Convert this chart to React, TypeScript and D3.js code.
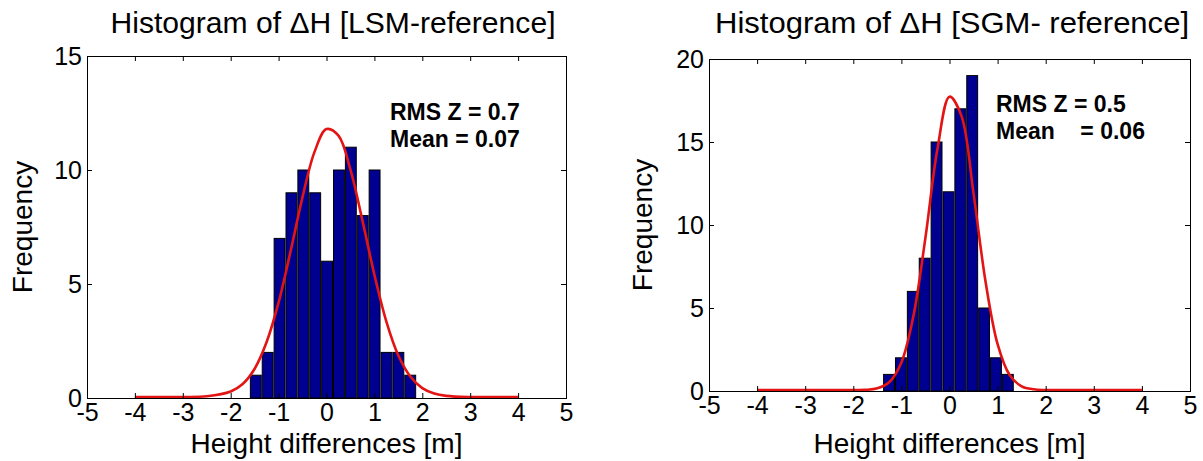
import React, { useEffect, useRef } from "react";
import * as d3 from "d3";

const W = 1203;
const H = 461;
const FONT = "Liberation Sans, Arial, sans-serif";

// shared x ticks
const xTicks = [-5, -4, -3, -2, -1, 0, 1, 2, 3, 4, 5];

// LSM - reference
const lsmCenters = [-1.476, -1.228, -0.98, -0.732, -0.484, -0.236, 0.012, 0.26, 0.508, 0.756, 1.004, 1.252, 1.5, 1.748];
const lsmCounts = [1, 2, 7, 9, 10, 9, 6, 10, 11, 8, 10, 2, 2, 1];
const lsmBinWidth = 0.248;
const lsmYTicks = [0, 5, 10, 15];
const lsmFitX = [-4, -3, -2.5, -2, -1.75, -1.5, -1.25, -1, -0.75, -0.5, -0.25, 0, 0.25, 0.5, 0.75, 1, 1.25, 1.5, 1.75, 2, 2.25, 2.5, 3, 4];
const lsmFitY = [0, 0, 0.03, 0.24, 0.57, 1.24, 2.41, 4.15, 6.39, 8.77, 10.75, 11.75, 11.46, 9.97, 7.74, 5.36, 3.31, 1.82, 0.9, 0.39, 0.15, 0.05, 0, 0];

// SGM - reference
const sgmCenters = [-1.257, -1.01, -0.763, -0.516, -0.269, -0.022, 0.225, 0.472, 0.719, 0.966, 1.213];
const sgmCounts = [1, 2, 6, 8, 15, 12, 17, 19, 5, 2, 1];
const sgmBinWidth = 0.247;
const sgmYTicks = [0, 5, 10, 15, 20];
const sgmFitX = [-4, -3, -2, -1.75, -1.5, -1.25, -1, -0.75, -0.5, -0.25, 0, 0.25, 0.5, 0.75, 1, 1.25, 1.5, 1.75, 2, 3, 4];
const sgmFitY = [0, 0, 0, 0.01, 0.1, 0.48, 1.66, 4.46, 9.18, 14.53, 17.67, 16.5, 11.83, 6.52, 2.76, 0.9, 0.22, 0.04, 0, 0, 0];

type Panel = {
  box: [number, number, number, number];
  title: string;
  titleX: number;
  titleW: number;
  centers: number[];
  counts: number[];
  binWidth: number;
  yTicks: number[];
  fitX: number[];
  fitY: number[];
  notes: string[];
  noteX: number;
  noteY: number;
  ylabX: number;
};

const panels: Panel[] = [
  {
    box: [87, 56, 566, 398],
    title: "Histogram of \u0394H [LSM-reference]", titleX: 333, titleW: 445,
    centers: lsmCenters, counts: lsmCounts, binWidth: lsmBinWidth,
    yTicks: lsmYTicks, fitX: lsmFitX, fitY: lsmFitY,
    notes: ["RMS Z = 0.7", "Mean = 0.07"], noteX: 390, noteY: 120, ylabX: 32,
  },
  {
    box: [709, 59, 1190, 391],
    title: "Histogram of \u0394H [SGM- reference]", titleX: 952, titleW: 474,
    centers: sgmCenters, counts: sgmCounts, binWidth: sgmBinWidth,
    yTicks: sgmYTicks, fitX: sgmFitX, fitY: sgmFitY,
    notes: ["RMS Z = 0.5", "Mean    = 0.06"], noteX: 996, noteY: 112, ylabX: 652,
  },
];

function drawPanel(svg: d3.Selection<SVGSVGElement, unknown, null, undefined>, p: Panel) {
  const [x0, y0, x1, y1] = p.box;
  const x = d3.scaleLinear().domain([-5, 5]).range([x0, x1]);
  const y = d3.scaleLinear().domain([0, p.yTicks[p.yTicks.length - 1]]).range([y1, y0]);
  const g = svg.append("g");

  // bars
  g.append("g")
    .selectAll("rect")
    .data(p.centers.map((c, i) => ({ c, n: p.counts[i] })))
    .join("rect")
    .attr("x", d => x(d.c - p.binWidth / 2) + 0.5)
    .attr("width", d => x(d.c + p.binWidth / 2) - x(d.c - p.binWidth / 2) - 1)
    .attr("y", d => y(d.n))
    .attr("height", d => y(0) - y(d.n))
    .attr("fill", "#000090")
    .attr("stroke", "#000")
    .attr("stroke-width", 1);

  // fitted normal curve
  const line = d3.line<number>()
    .x(d => x(d))
    .y((d, i) => y(p.fitY[i]) - 1)
    .curve(d3.curveCatmullRom);
  g.append("path")
    .attr("d", line(p.fitX))
    .attr("fill", "none")
    .attr("stroke", "#e31414")
    .attr("stroke-width", 2.6);

  // axes, ticks inside
  const styleAxis = (a: d3.Selection<SVGGElement, unknown, null, undefined>) => {
    a.select(".domain").remove();
    a.attr("font-family", FONT).attr("font-size", 25);
    a.selectAll("text").attr("fill", "#000");
  };
  g.append("g").attr("transform", `translate(0,${y1})`)
    .call(d3.axisBottom(x).tickValues(xTicks).tickSize(-5).tickPadding(5).tickFormat(d => String(d)))
    .call(styleAxis);
  g.append("g").attr("transform", `translate(0,${y0})`)
    .call(d3.axisTop(x).tickValues(xTicks).tickSize(-5).tickFormat(() => ""))
    .call(styleAxis);
  g.append("g").attr("transform", `translate(${x0},0)`)
    .call(d3.axisLeft(y).tickValues(p.yTicks).tickSize(-5).tickPadding(5).tickFormat(d => String(d)))
    .call(styleAxis);
  g.append("g").attr("transform", `translate(${x1},0)`)
    .call(d3.axisRight(y).tickValues(p.yTicks).tickSize(-5).tickFormat(() => ""))
    .call(styleAxis);

  // box
  g.append("rect")
    .attr("x", x0 + 0.5).attr("y", y0 + 0.5)
    .attr("width", x1 - x0).attr("height", y1 - y0)
    .attr("fill", "none").attr("stroke", "#000").attr("stroke-width", 1);

  // title and labels
  g.append("text")
    .attr("x", p.titleX).attr("y", 33)
    .attr("text-anchor", "middle")
    .attr("font-family", FONT).attr("font-size", 30)
    .attr("textLength", p.titleW).attr("lengthAdjust", "spacingAndGlyphs")
    .text(p.title);
  g.append("text")
    .attr("x", (x0 + x1) / 2).attr("y", 453)
    .attr("text-anchor", "middle")
    .attr("font-family", FONT).attr("font-size", 28)
    .text("Height differences [m]");
  g.append("text")
    .attr("transform", `translate(${p.ylabX},${(y0 + y1) / 2}) rotate(-90)`)
    .attr("text-anchor", "middle")
    .attr("font-family", FONT).attr("font-size", 28)
    .text("Frequency");

  // annotation
  g.append("g")
    .selectAll("text")
    .data(p.notes)
    .join("text")
    .attr("x", p.noteX)
    .attr("y", (d, i) => p.noteY + i * 27)
    .attr("font-family", FONT).attr("font-size", 23).attr("font-weight", "bold")
    .style("white-space", "pre")
    .text(d => d);
}

export default function App() {
  const ref = useRef<SVGSVGElement>(null);

  useEffect(() => {
    const svg = d3.select(ref.current!);
    svg.selectAll("*").remove();
    panels.forEach(p => drawPanel(svg, p));
  }, []);

  return (
    <svg
      ref={ref}
      width={W}
      height={H}
      style={{ position: "absolute", left: 0, top: 0, background: "#fff" }}
    />
  );
}
